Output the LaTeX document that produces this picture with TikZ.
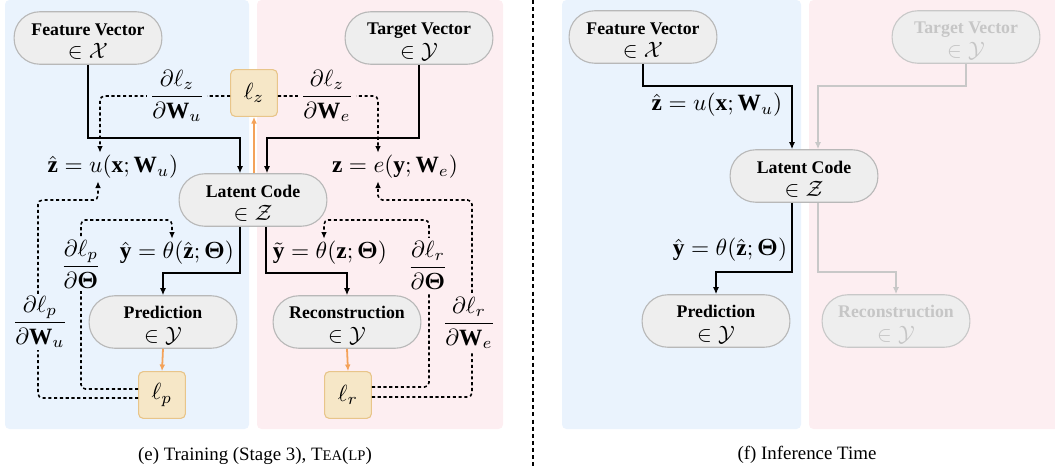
\documentclass[tikz,border=0pt]{standalone}
\usepackage{amsmath}
\usepackage{graphicx}
\usepackage{fontspec}
\setmainfont{Liberation Serif}
\usetikzlibrary{arrows.meta,calc}
\definecolor{bgblue}{HTML}{EAF3FD}
\definecolor{bgpink}{HTML}{FDEEF1}
\definecolor{pillfill}{HTML}{EEEEEE}
\definecolor{pilldraw}{HTML}{B8B8B8}
\definecolor{lfill}{HTML}{F6E7C7}
\definecolor{ldraw}{HTML}{E8C58A}
\definecolor{orangeln}{HTML}{F4A259}
\definecolor{fadetxt}{HTML}{C6C6C6}
\definecolor{fadeln}{HTML}{C8C8C8}
\newcommand\pilltext[2]{\rule{0pt}{8.4pt}\textbf{#1}\\{\fontsize{10}{10.4}\selectfont$\in\mathcal{#2}$}}
\newcommand\fsc[1]{{\fontsize{6.6}{8}\selectfont #1}}
\newcommand\mth[1]{\scalebox{1.05}{$\displaystyle #1$}}
\begin{document}
\begin{tikzpicture}[x=0.45pt,y=-0.45pt,
  pill/.style={draw=pilldraw, fill=pillfill, line width=0.5pt, rounded corners=11.5pt,
    minimum width=66.5pt, minimum height=23.6pt, inner sep=0pt, align=center,
    font=\fontsize{8}{10.6}\selectfont},
  fadepill/.style={pill, draw=fadeln, text=fadetxt},
  lbox/.style={draw=ldraw, fill=lfill, line width=0.5pt, rounded corners=2pt,
    minimum width=21pt, minimum height=21pt, inner sep=0pt},
  eq/.style={inner sep=1pt},
  flow/.style={line width=1.1pt, -{Latex[length=3.2pt,width=2.8pt]}},
  fadeflow/.style={line width=0.8pt, draw=fadeln, -{Latex[length=3.2pt,width=2.8pt]}},
  grad/.style={line width=0.7pt, dash pattern=on 1.4pt off 1.2pt, rounded corners=2pt,
    -{Latex[length=3pt,width=2.6pt]}},
  loss/.style={line width=0.8pt, draw=orangeln, -{Latex[length=3pt,width=2.6pt]}},
  glab/.style={inner sep=1.2pt},
  sepline/.style={line width=0.9pt, dash pattern=on 1.8pt off 1.4pt},
  captext/.style={font=\fontsize{8.5}{10}\selectfont, inner sep=0pt}
]
\useasboundingbox (0,0) rectangle (1055,469);
% panels
\fill[bgblue, rounded corners=2pt] (5,0) rectangle (249,429);
\fill[bgpink, rounded corners=2pt] (257,0) rectangle (503,429);
\fill[bgblue, rounded corners=2pt] (562,0) rectangle (801,429);
\fill[bgpink, rounded corners=2pt] (809,0) rectangle (1062,429);
% separator
\coordinate (s1) at (533,0);
\coordinate (s2) at (533,469);
\draw[sepline] (s1) -- (s2);

% ---------- panel (e)
\node[pill] (fv) at (88,38) {\pilltext{Feature Vector}{X}};
\node[pill] (tv) at (419,38) {\pilltext{Target Vector}{Y}};
\node[lbox] (lz) at (254,93) {\mth{\ell_z}};
\node[pill] (lat) at (253,200) {\pilltext{Latent Code}{Z}};
\node[eq] (zh) at (113,167) {\mth{\hat{\mathbf{z}} = u(\mathbf{x};\mathbf{W}_u)}};
\node[eq] (ze) at (395,167) {\mth{\mathbf{z} = e(\mathbf{y};\mathbf{W}_e)}};
\node[eq] (yh) at (177,253) {\mth{\hat{\mathbf{y}} = \theta(\hat{\mathbf{z}};\boldsymbol{\Theta})}};
\node[eq] (yt) at (330,253) {\mth{\tilde{\mathbf{y}} = \theta(\mathbf{z};\boldsymbol{\Theta})}};
\node[pill] (pred) at (163,322) {\pilltext{Prediction}{Y}};
\node[pill] (rec) at (347,322) {\pilltext{Reconstruction}{Y}};
\node[lbox] (lp) at (162,395) {\mth{\ell_p}};
\node[lbox] (lr) at (348,395) {\mth{\ell_r}};

\coordinate (j1) at (240,138);
\coordinate (j2) at (267,138);
\coordinate (j3) at (240,273);
\coordinate (j4) at (266,273);
\draw[flow] (fv.south) |- (j1) -- (j1 |- lat.north);
\draw[flow] (tv.south) |- (j2) -- (j2 |- lat.north);
\draw[flow] (j3 |- lat.south) -- (j3) -| (pred.north);
\draw[flow] (j4 |- lat.south) -- (j4) -| (rec.north);
\draw[loss] (lat.north -| lz) -- (lz.south);
\draw[loss] (pred.south) -- (lp.north);
\draw[loss] (rec.south) -- (lr.north);

\coordinate (g1) at (100,96);
\coordinate (g2) at (378,96);
\coordinate (g3) at (38,398);
\coordinate (g4) at (38,200);
\coordinate (g5) at (98,200);
\coordinate (g6) at (81,389);
\coordinate (g7) at (81,220);
\coordinate (g8) at (172,220);
\coordinate (g9) at (429,387);
\coordinate (g10) at (429,220);
\coordinate (g11) at (324,220);
\coordinate (g12) at (472,397);
\coordinate (g13) at (472,200);
\coordinate (g14) at (378,200);
\draw[grad] (lz.west |- g1) -- (g1) -- (g1 |- zh.north);
\draw[grad] (lz.east |- g2) -- (g2) -- (g2 |- ze.north);
\draw[grad] (lp.west |- g3) -- (g3) -- (g4) -- (g5) -- (g5 |- zh.south);
\draw[grad] (lp.west |- g6) -- (g6) -- (g7) -- (g8) -- (g8 |- yh.north);
\draw[grad] (lr.east |- g9) -- (g9) -- (g10) -- (g11) -- (g11 |- yt.north);
\draw[grad] (lr.east |- g12) -- (g12) -- (g13) -- (g14) -- (g14 |- ze.south);

\node[glab, fill=bgblue] (d1) at (177,96) {\mth{\frac{\partial\ell_z}{\partial\mathbf{W}_u}}};
\node[glab, fill=bgpink] (d2) at (327,96) {\mth{\frac{\partial\ell_z}{\partial\mathbf{W}_e}}};
\node[glab, fill=bgblue] (d3) at (40,322) {\mth{\frac{\partial\ell_p}{\partial\mathbf{W}_u}}};
\node[glab, fill=bgblue] (d4) at (81,264) {\mth{\frac{\partial\ell_p}{\partial\boldsymbol{\Theta}}}};
\node[glab, fill=bgpink] (d5) at (428,265) {\mth{\frac{\partial\ell_r}{\partial\boldsymbol{\Theta}}}};
\node[glab, fill=bgpink] (d6) at (469,323) {\mth{\frac{\partial\ell_r}{\partial\mathbf{W}_e}}};

% ---------- panel (f)
\node[pill] (fv2) at (643,37) {\pilltext{Feature Vector}{X}};
\node[fadepill] (tv2) at (966,37) {\pilltext{Target Vector}{Y}};
\node[pill] (lat2) at (804,176) {\pilltext{Latent Code}{Z}};
\node[pill] (pred2) at (716,321) {\pilltext{Prediction}{Y}};
\node[fadepill] (rec2) at (896,321) {\pilltext{Reconstruction}{Y}};
\node[eq] (zh2) at (717,105) {\mth{\hat{\mathbf{z}} = u(\mathbf{x};\mathbf{W}_u)}};
\node[eq] (yh2) at (730,250) {\mth{\hat{\mathbf{y}} = \theta(\hat{\mathbf{z}};\boldsymbol{\Theta})}};

\coordinate (j5) at (792,86);
\coordinate (j6) at (818,86);
\coordinate (j7) at (792,272);
\coordinate (j8) at (818,272);
\draw[flow] (fv2.south) |- (j5) -- (j5 |- lat2.north);
\draw[fadeflow] (tv2.south) |- (j6) -- (j6 |- lat2.north);
\draw[flow] (j7 |- lat2.south) -- (j7) -| (pred2.north);
\draw[fadeflow] (j8 |- lat2.south) -- (j8) -| (rec2.north);

% captions
\node[captext] (cape) at (255,456) {(e) Training (Stage 3), T\fsc{EA}(\fsc{LP})};
\node[captext] (capf) at (807,455) {(f) Inference Time};
\end{tikzpicture}
\end{document}
